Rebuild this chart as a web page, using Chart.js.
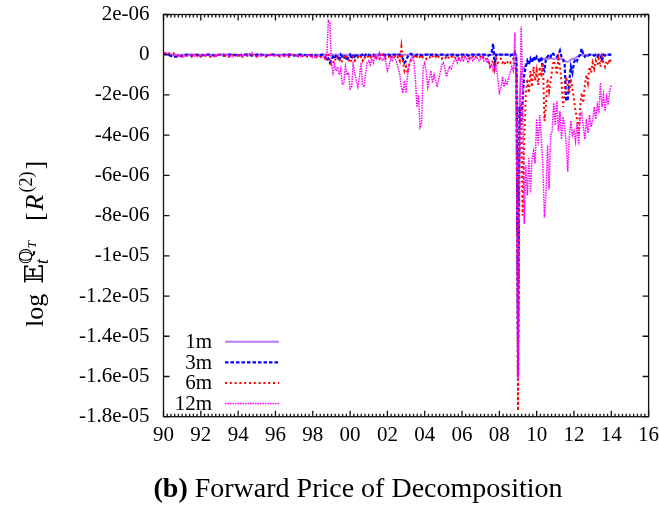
<!DOCTYPE html>
<html>
<head>
<meta charset="utf-8">
<script src="https://cdn.jsdelivr.net/npm/chart.js@4.4.1/dist/chart.umd.min.js"></script>
<style>
  html, body { margin: 0; padding: 0; background: #fff; }
  #wrap { width: 659px; height: 505px; }
</style>
</head>
<body>
<div id="wrap"><canvas id="decomp" width="659" height="505"></canvas></div>
<script>
const SERIF = '"Liberation Serif", "DejaVu Serif", serif';

// sample dates in decimal years: quarterly up to mid-1998, monthly afterwards
const dates = [];
for (let q = 0; q <= 34; q++) dates.push(1990 + q / 4);
for (let m = 1; m <= 186; m++) dates.push(1998.5 + m / 12);

// all values in units of 1e-06
const m1 = [
  0.02, 0, 0, 0,  0, 0, 0.02, 0,  0, 0, 0, 0,  0, 0, 0, 0,
  0, 0, 0.02, 0,  0, 0, 0, 0,  0, 0, 0, 0,  0, 0, 0, 0,
  0, 0, 0,  0, 0, 0, 0, 0,                                              // 1998
  0, 0, 0, 0, 0, 0, 0, 0, 0, 0, 0, 0,                                   // 1999
  0, 0, 0, 0, 0, 0, 0, 0, 0, 0, 0, 0,                                   // 2000
  0, 0, 0, 0, 0, 0, 0, 0, 0, 0, 0, 0,                                   // 2001
  0, 0, 0, 0, 0, 0, 0, 0, 0, 0, 0, 0,                                   // 2002
  0, 0, 0, 0, 0, 0, 0, 0, 0, 0, 0, 0,                                   // 2003
  0, 0, 0, 0, 0, 0, 0, 0, 0, 0, 0, 0,                                   // 2004
  0, 0, 0, 0, 0, 0, 0, 0, 0, 0, 0, 0,                                   // 2005
  0, 0, 0, 0, 0, 0, 0, 0, 0, 0, 0, 0,                                   // 2006
  0, 0, 0, 0, 0, 0, 0, 0, 0, 0, 0, 0,                                   // 2007
  0, 0, 0, 0, 0, 0, 0, 0, 0, 0, 0, 0,                                   // 2008
  -14.5, -2.3, -0.9, -0.8, -0.6, -0.5, -0.4, -0.35, -0.3, -0.25, -0.2, -0.2,  // 2009
  -0.2, -0.2, -0.25, -0.2, -0.2, -0.2, -0.15, -0.2, -0.2, -0.15, -0.2, -0.2,  // 2010
  -0.2, -0.2, -0.25, -0.2, -0.2, -0.3, -0.3, -0.35, -0.35, -0.3, -0.25, -0.2, // 2011
  -0.2, -0.15, -0.1, -0.1, -0.05, 0, 0, 0, 0, 0, 0, 0,                  // 2012
  0, 0, 0, 0, 0, 0, 0, 0, 0, 0, 0, 0,                                   // 2013
  0
];

const m3 = [
  0.05, 0, -0.1, -0.1,  -0.05, 0, -0.05, 0,  -0.05, 0, 0, -0.05,  0, -0.05, 0, 0,
  -0.05, 0, 0, -0.05,  0, 0, -0.05, 0,  0, -0.05, 0, 0,  -0.05, 0, 0, -0.05,
  0, -0.05, 0,  0, -0.1, -0.3, -0.2, -0.4,                              // 1998
  -0.3, -0.1, -0.2, 0, -0.1, -0.3, 0, -0.1, -0.2, 0, -0.3, -0.1,        // 1999
  0, -0.2, 0, -0.1, 0.05, -0.1, 0, -0.05, 0, -0.1, 0, -0.05,            // 2000
  0, -0.05, 0, 0, -0.05, 0, 0, 0, -0.05, 0, 0, -0.05,                   // 2001
  0, 0, -0.05, 0, 0, 0, -0.05, 0, 0, -0.1, -0.2, -0.4,                  // 2002
  -0.3, -0.1, 0, 0.05, 0, 0, -0.05, 0, 0, 0, -0.05, 0,                  // 2003
  0, 0, 0, -0.05, 0, 0, 0, 0, -0.05, 0, 0, 0,                           // 2004
  0, 0, -0.05, 0, 0, 0, 0, 0, 0, -0.05, 0, 0,                           // 2005
  0, 0, 0, 0, -0.05, 0, 0, 0, 0, 0, 0, 0,                               // 2006
  0, 0, 0, 0, 0, -0.05, 0, 0.1, 0.55, -0.5, 0, -0.05,                   // 2007
  0, 0, 0, 0, 0, 0, 0, -0.05, 0, 0, 0.1, -0.3,                          // 2008
  -16.0, -2.6, -3.5, -2.2, -1.0, -0.6, -0.3, -0.5, -0.2, -0.4, -0.1, -0.3, // 2009
  -0.1, -0.2, -0.4, -0.1, -0.7, -0.8, -0.2, -0.1, 0, -0.1, 0.1, 0,      // 2010
  0, -0.1, 0, 0.2, -0.1, -0.2, -0.5, -2.3, -2.2, -1.3, -0.6, -0.9,      // 2011
  -0.4, -0.2, -0.3, -0.1, 0, 0.3, 0, -0.1, 0, -0.05, 0, 0,              // 2012
  0, -0.05, 0, -0.1, 0, 0, -0.3, 0, -0.05, 0, 0, 0,                     // 2013
  0
];

const m6 = [
  0.1, 0.05, 0.1, -0.05,  -0.1, -0.05, -0.1, 0,  -0.1, -0.05, -0.1, -0.05,  0, -0.05, -0.1, 0,
  -0.05, -0.1, -0.05, 0,  -0.1, -0.05, -0.1, 0,  -0.05, -0.1, -0.05, -0.1,  0, -0.1, -0.05, -0.1,
  -0.05, -0.15, -0.1,  -0.1, -0.2, 0.1, 0, -0.3,                        // 1998
  -0.5, -0.5, -0.2, -0.3, -0.1, -0.2, -0.4, -0.3, -0.1, -0.2, -0.1, -0.2, // 1999
  -0.4, -0.2, -0.1, -0.3, -0.2, -0.1, -0.2, -0.1, -0.3, -0.1, -0.2, -0.1, // 2000
  -0.1, -0.2, 0, -0.1, -0.2, -0.1, -0.1, -0.2, -0.1, 0, -0.1, -0.2,     // 2001
  -0.1, -0.1, -0.2, -0.1, 0, -0.1, -0.2, -0.1, -0.3, 0.4, -0.3, -0.8,   // 2002
  -0.6, -0.9, -0.5, -0.3, -0.2, -0.1, -0.2, -0.1, -0.2, -0.1, -0.2, -0.1, // 2003
  -0.1, -0.2, -0.1, -0.1, -0.2, -0.1, 0, -0.1, -0.2, -0.1, -0.1, -0.2,  // 2004
  -0.1, -0.1, -0.2, -0.1, -0.2, -0.1, -0.1, -0.2, -0.1, -0.1, -0.2, -0.1, // 2005
  -0.1, -0.2, -0.1, -0.1, -0.1, -0.2, -0.1, -0.1, -0.2, -0.1, -0.1, -0.1, // 2006
  -0.1, -0.2, -0.1, -0.1, -0.2, -0.3, -0.6, -0.4, -0.3, -0.7, -0.2, -0.4, // 2007
  -0.3, -0.2, -0.4, -0.3, -0.5, -0.4, -0.3, -0.4, -0.3, -0.2, -0.5, -1.0, // 2008
  -17.7, -4.0, -2.5, -8.0, -4.3, -2.0, -1.2, -1.9, -0.8, -1.6, -0.6, -1.3, // 2009
  -0.8, -1.5, -0.6, -1.1, -0.4, -3.3, -2.5, -1.2, -1.8, -1.3, -0.7, -0.3, // 2010
  -0.5, -1.0, -0.2, -0.6, -1.4, -2.6, -1.8, -1.1, -1.5, -1.9, -1.2, -1.7, // 2011
  -2.2, -2.8, -3.2, -4.0, -2.6, -1.9, -2.4, -1.5, -1.0, -1.4, -0.6, -0.9, // 2012
  -0.4, -0.7, -0.3, -0.5, -0.2, -0.6, -0.1, -0.4, -0.6, -0.3, -0.5, -0.2, // 2013
  -0.4
];

const m12 = [
  0.05, 0.1, -0.05, 0,  -0.1, -0.05, 0, -0.1,  -0.05, 0, -0.05, -0.1,  0, 0.05, -0.05, -0.1,
  0, -0.05, 0, 0.1,  -0.1, -0.05, 0, -0.05,  -0.05, 0, -0.1, 0.05,  0, -0.1, -0.05, 0,
  -0.15, -0.05, -0.1,  -0.1, -0.2, -0.2, 1.7, 1.6,                      // 1998
  -0.4, -0.9, -0.5, -0.8, -0.6, -1.0, -0.7, -1.5, -1.4, -0.6, -1.0, -0.9, // 1999
  -1.7, -1.6, -0.5, -0.9, -1.3, -1.6, -1.1, -0.4, -1.5, -1.6, -0.9, -0.4, // 2000
  -0.3, -0.5, -0.2, -0.4, 0, -0.2, -0.1, 0.1, -0.2, -0.3, -0.1, -0.4,   // 2001
  -0.8, -0.6, -0.2, -0.3, -0.1, -0.2, -0.4, -0.7, -1.0, -1.6, -1.9, -1.3, // 2002
  -1.9, -1.0, -0.5, -0.2, -0.1, -0.3, -1.2, -2.6, -2.0, -3.6, -3.4, -0.6, // 2003
  -0.4, -0.9, -1.6, -1.2, -0.8, -1.4, -1.0, -1.3, -1.6, -1.2, -0.9, -0.5, // 2004
  -0.4, -0.7, -1.1, -0.8, -0.6, -0.7, -0.5, -0.3, -0.2, -0.4, -0.1, -0.3, // 2005
  -0.2, -0.3, -0.1, -0.2, -0.4, -0.2, -0.1, -0.3, -0.2, -0.1, -0.2, -0.3, // 2006
  -0.2, -0.1, -0.3, -0.2, -0.4, -0.3, -0.6, -0.5, -0.8, -0.6, -0.5, -1.2, // 2007
  -1.9, -1.7, -1.1, -1.6, -1.3, -1.5, -1.1, -0.9, -0.6, -0.8, 1.1, -3.0,  // 2008
  -16.2, -5.0, 1.4, -1.5, -8.4, -5.5, -7.0, -5.1, -6.9, -5.2, -4.8, -5.4, // 2009
  -3.2, -4.5, -3.0, -4.2, -5.5, -8.1, -7.0, -4.5, -6.7, -4.0, -3.8, -2.4, // 2010
  -3.5, -2.3, -3.8, -2.8, -4.2, -3.1, -3.6, -4.4, -5.8, -4.1, -3.3, -4.0, // 2011
  -3.8, -4.3, -3.4, -4.5, -3.0, -2.9, -3.6, -4.2, -3.2, -3.9, -3.0, -3.6, // 2012
  -3.3, -2.6, -3.2, -2.5, -2.9, -1.4, -2.6, -2.0, -2.8, -2.1, -2.5, -1.8, // 2013
  -1.5
];

const seriesNames = ['1m', '3m', '6m', '12m'];
const xTickLabels = ['90', '92', '94', '96', '98', '00', '02', '04', '06', '08', '10', '12', '14', '16'];
const yTickValues = [2, 0, -2, -4, -6, -8, -10, -12, -14, -16, -18];
const yTickLabels = ['2e-06', '0', '-2e-06', '-4e-06', '-6e-06', '-8e-06', '-1e-05',
                     '-1.2e-05', '-1.4e-05', '-1.6e-05', '-1.8e-05'];

const toPoints = vals => vals.map((v, i) => ({ x: dates[i], y: v }));

// inward ticks on all four sides plus the border box
const framePlugin = {
  id: 'frame',
  afterDraw(chart) {
    const { ctx, chartArea: a, scales: { x, y } } = chart;
    ctx.save();
    ctx.strokeStyle = '#111';
    ctx.lineWidth = 1.3;
    ctx.beginPath();
    for (let yr = 1990; yr <= 2016.001; yr += 0.2) {
      const px = x.getPixelForValue(yr);
      const major = Math.abs(yr - Math.round(yr)) < 0.01 && Math.round(yr) % 2 === 0;
      const len = major ? 6 : 3;
      ctx.moveTo(px, a.bottom); ctx.lineTo(px, a.bottom - len);
      ctx.moveTo(px, a.top); ctx.lineTo(px, a.top + len);
    }
    yTickValues.forEach(v => {
      const py = y.getPixelForValue(v);
      ctx.moveTo(a.left, py); ctx.lineTo(a.left + 6, py);
      ctx.moveTo(a.right, py); ctx.lineTo(a.right - 6, py);
    });
    ctx.stroke();
    ctx.strokeRect(a.left, a.top, a.right - a.left, a.bottom - a.top);
    ctx.restore();
  }
};

// key in the lower left: label, then a sample of the line style
const keyPlugin = {
  id: 'key',
  afterDraw(chart) {
    const ctx = chart.ctx;
    ctx.save();
    ctx.font = '21px ' + SERIF;
    ctx.fillStyle = '#000';
    ctx.textAlign = 'right';
    ctx.textBaseline = 'middle';
    chart.data.datasets.forEach((ds, i) => {
      const yy = 341.7 + i * 20.6;
      ctx.fillText(ds.label, 212, yy + 1);
      ctx.beginPath();
      ctx.strokeStyle = ds.borderColor;
      ctx.lineWidth = ds.borderWidth;
      ctx.setLineDash(ds.borderDash || []);
      ctx.moveTo(225, yy);
      ctx.lineTo(279, yy);
      ctx.stroke();
    });
    ctx.restore();
  }
};

function layoutParts(ctx, parts) {
  let cursor = 0;
  const marks = {};
  const placed = [];
  parts.forEach(p => {
    if (p.gap) { cursor += p.gap; return; }
    ctx.font = p.font;
    const w = ctx.measureText(p.t).width;
    const x0 = p.from ? marks[p.from] : cursor;
    placed.push({ t: p.t, font: p.font, x: x0, dy: p.dy || 0 });
    if (p.mark) marks[p.mark] = x0 + w;
    cursor = Math.max(cursor, x0 + w);
  });
  return { placed, width: cursor };
}

// rotated axis title and the caption under the plot
const textPlugin = {
  id: 'texts',
  afterDraw(chart) {
    const ctx = chart.ctx;
    const roman = '26px ' + SERIF;
    const ital = 'italic 26px ' + SERIF;
    const small = '18px ' + SERIF;
    const smallIt = 'italic 18px ' + SERIF;
    const tinyIt = 'italic 13px ' + SERIF;
    const parts = [
      { t: 'log', font: roman },
      { gap: 10 },
      { t: '\u{1D53C}', font: roman, mark: 'E' },
      { t: '\u211A', font: small, dy: -11 },
      { t: 'T', font: tinyIt, dy: -7 },
      { t: 't', font: smallIt, dy: 5, from: 'E' },
      { gap: 20 },
      { t: '[', font: roman },
      { gap: 2 },
      { t: 'R', font: ital },
      { gap: 2 },
      { t: '(2)', font: small, dy: -11 },
      { gap: 2 },
      { t: ']', font: roman }
    ];
    ctx.save();
    ctx.fillStyle = '#000';
    ctx.textBaseline = 'alphabetic';
    ctx.textAlign = 'left';
    const lay = layoutParts(ctx, parts);
    ctx.translate(43, 244);
    ctx.rotate(-Math.PI / 2);
    lay.placed.forEach(p => {
      ctx.font = p.font;
      ctx.fillText(p.t, p.x - lay.width / 2, p.dy);
    });
    ctx.restore();

    ctx.save();
    ctx.fillStyle = '#000';
    ctx.textBaseline = 'alphabetic';
    ctx.textAlign = 'left';
    const bold = 'bold 28px ' + SERIF;
    const reg = '28px ' + SERIF;
    ctx.font = bold;
    const wb = ctx.measureText('(b)').width;
    ctx.font = reg;
    const rest = ' Forward Price of Decomposition';
    const wr = ctx.measureText(rest).width;
    const x0 = 358 - (wb + wr) / 2;
    ctx.font = bold;
    ctx.fillText('(b)', x0, 497);
    ctx.font = reg;
    ctx.fillText(rest, x0 + wb, 497);
    ctx.restore();
  }
};

new Chart(document.getElementById('decomp'), {
  type: 'line',
  data: {
    datasets: [
      { label: seriesNames[0], data: toPoints(m1), borderColor: '#b47cf5', borderWidth: 2, order: 4 },
      { label: seriesNames[1], data: toPoints(m3), borderColor: '#0000ff', borderWidth: 2.2, borderDash: [3.5, 2], order: 3 },
      { label: seriesNames[2], data: toPoints(m6), borderColor: '#ff0000', borderWidth: 2, borderDash: [2, 2.8], order: 2 },
      { label: seriesNames[3], data: toPoints(m12), borderColor: '#ff00ff', borderWidth: 1.5, borderDash: [1.5, 1], order: 1 }
    ]
  },
  options: {
    responsive: false,
    animation: false,
    devicePixelRatio: 1,
    layout: { padding: { left: 0, top: 14.5, right: 10.4, bottom: 0 } },
    elements: { point: { radius: 0 }, line: { tension: 0, fill: false } },
    plugins: { legend: { display: false }, tooltip: { enabled: false } },
    scales: {
      x: {
        type: 'linear',
        min: 1990,
        max: 2016,
        grid: { display: false, drawTicks: false },
        border: { display: false },
        ticks: {
          stepSize: 2,
          padding: 6,
          color: '#000',
          maxRotation: 0,
          autoSkip: false,
          font: { family: SERIF, size: 21 },
          callback: (v, i) => xTickLabels[i]
        },
        afterFit: s => { s.height = 88.3; s.paddingLeft = 0; s.paddingRight = 0; }
      },
      y: {
        min: -18,
        max: 2,
        grid: { display: false, drawTicks: false },
        border: { display: false },
        ticks: {
          stepSize: 2,
          padding: 14,
          color: '#000',
          font: { family: SERIF, size: 21 },
          callback: v => yTickLabels[yTickValues.indexOf(v)]
        },
        afterFit: s => { s.width = 163.5; s.paddingTop = 0; s.paddingBottom = 0; }
      }
    }
  },
  plugins: [framePlugin, keyPlugin, textPlugin]
});
</script>
</body>
</html>
